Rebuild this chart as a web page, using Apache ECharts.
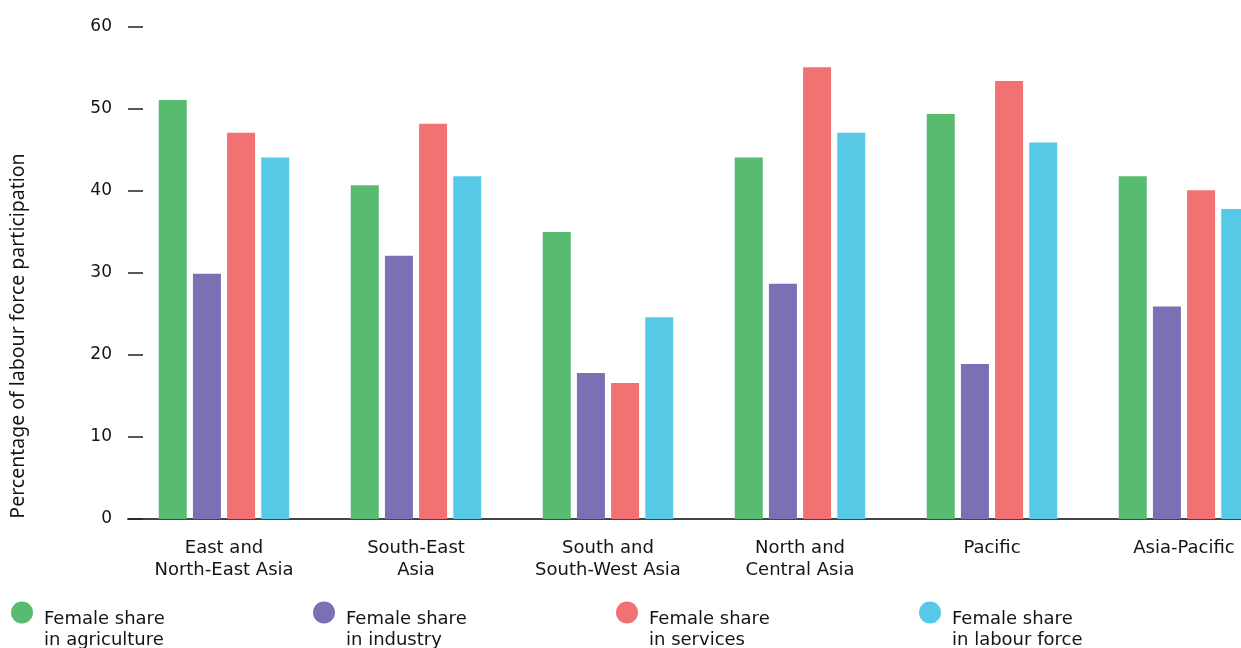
<!DOCTYPE html>
<html>
<head>
<meta charset="utf-8">
<script src="https://cdn.jsdelivr.net/npm/echarts@6/dist/echarts.min.js"></script>
<style>
  html, body { margin: 0; padding: 0; background: #ffffff; overflow: hidden; }
  #chart { width: 1280px; height: 648px; }
</style>
</head>
<body>
<div id="chart"></div>
<script>
const categories = [
  'East and\nNorth-East Asia',
  'South-East\nAsia',
  'South and\nSouth-West Asia',
  'North and\nCentral Asia',
  'Pacific',
  'Asia-Pacific'
];
const seriesNames = [
  'Female share\nin agriculture',
  'Female share\nin industry',
  'Female share\nin services',
  'Female share\nin labour force'
];
const agriculture = [51.1, 40.7, 35.0, 44.1, 49.4, 41.8];
const industry    = [29.9, 32.1, 17.8, 28.7, 18.9, 25.9];
const services    = [47.1, 48.2, 16.6, 55.1, 53.4, 40.1];
const labourForce = [44.1, 41.8, 24.6, 47.1, 45.9, 37.8];
const yTicks = [0, 10, 20, 30, 40, 50, 60];
const colors = ['#58BB70', '#7B70B3', '#F27274', '#57C8E5'];

const FONT = 'DejaVu Sans';
const TEXT = '#141414';

const chart = echarts.init(document.getElementById('chart'), null, { renderer: 'canvas' });

const dataSets = [agriculture, industry, services, labourForce];
const legendLefts = [11, 313, 616, 919];

const option = {
  animation: false,
  backgroundColor: '#ffffff',
  textStyle: { fontFamily: FONT, color: TEXT },
  grid: { left: 128, right: 0, top: 27, bottom: 129, containLabel: false },
  legend: seriesNames.map((n, i) => ({
    data: [n],
    left: legendLefts[i],
    top: 574,
    padding: 0,
    orient: 'horizontal',
    icon: 'circle',
    itemWidth: 22,
    itemHeight: 22,
    selectedMode: false,
    formatter: name => {
      const parts = name.split('\n');
      return '{s|}\n{a|' + parts[0] + '}\n{a|' + parts[1] + '}';
    },
    textStyle: {
      fontFamily: FONT, fontSize: 18, color: TEXT,
      rich: {
        s: { height: 35, fontSize: 1, lineHeight: 35 },
        a: { fontFamily: FONT, fontSize: 18, color: TEXT, lineHeight: 21, padding: [0, 0, 0, 6] }
      }
    }
  })),
  xAxis: {
    type: 'category',
    data: categories,
    axisLine: { show: true, lineStyle: { color: '#444444', width: 2 } },
    axisTick: { show: false },
    axisLabel: { fontFamily: FONT, fontSize: 18, color: TEXT, lineHeight: 22, margin: 18, interval: 0 }
  },
  yAxis: {
    type: 'value',
    min: 0, max: 60, interval: 10,
    axisLine: { show: false },
    axisTick: { show: true, inside: true, length: 15, lineStyle: { color: '#222222', width: 1.5 } },
    splitLine: { show: false },
    axisLabel: {
      fontFamily: FONT, fontSize: 17, color: TEXT, margin: 16,
      formatter: v => (yTicks.includes(v) ? String(v) : '')
    }
  },
  graphic: [{
    type: 'text',
    x: 18, y: 336,
    rotation: Math.PI / 2,
    style: {
      text: 'Percentage of labour force participation',
      font: '19.5px "Noto Sans"',
      fill: TEXT,
      align: 'center',
      verticalAlign: 'middle'
    }
  }],
  series: seriesNames.map((n, i) => ({
    name: n,
    type: 'bar',
    data: dataSets[i],
    barWidth: 28,
    barGap: '22%',
    itemStyle: { color: colors[i] },
    emphasis: { disabled: true }
  }))
};

chart.setOption(option);
</script>
</body>
</html>
